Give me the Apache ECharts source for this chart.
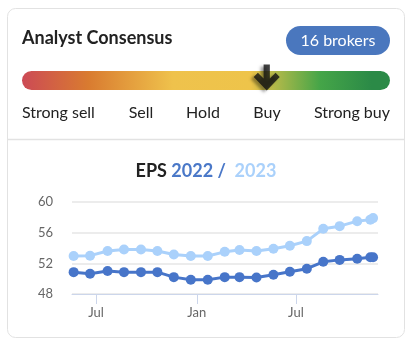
<!DOCTYPE html>
<html>
<head>
<meta charset="utf-8">
<script src="https://cdn.jsdelivr.net/npm/echarts@6/dist/echarts.min.js"></script>
<style>
  html, body { margin: 0; padding: 0; background: #fff; }
  #main { width: 412px; height: 351px; }
</style>
</head>
<body>
<div id="main"></div>
<script>
// consensus
var ratingLabels = ['Strong sell', 'Sell', 'Hold', 'Buy', 'Strong buy'];
var brokerCount = 16;
var consensusScore = 3.66; // 1 = strong sell, 5 = strong buy

// EPS estimates, monthly snapshots
var dates = ['2021-05-21', '2021-06-20', '2021-07-22', '2021-08-21', '2021-09-21', '2021-10-21',
  '2021-11-20', '2021-12-21', '2022-01-21', '2022-02-21', '2022-03-20', '2022-04-20',
  '2022-05-21', '2022-06-20', '2022-07-21', '2022-08-20', '2022-09-19', '2022-10-21',
  '2022-11-14', '2022-11-19'];
var eps2022 = [50.85, 50.65, 51.0, 50.85, 50.85, 50.85, 50.2, 49.85, 49.85, 50.2,
  50.2, 50.15, 50.5, 50.9, 51.3, 52.2, 52.45, 52.6, 52.8, 52.8];
var eps2023 = [52.95, 53.0, 53.6, 53.8, 53.8, 53.6, 53.15, 52.95, 52.95, 53.5,
  53.75, 53.6, 53.9, 54.3, 54.9, 56.5, 56.85, 57.5, 57.7, 57.9];
var xTicks = ['2021-07-01', '2022-01-01', '2022-07-01'];
var monthNames = ['Jan', 'Feb', 'Mar', 'Apr', 'May', 'Jun', 'Jul', 'Aug', 'Sep', 'Oct', 'Nov', 'Dec'];

var FONT = 'Lato';
var myChart = echarts.init(document.getElementById('main'));

function pairs(ys) {
  return ys.map(function(y, i) { return [Date.parse(dates[i]), y]; });
}
var tickValues = xTicks.map(function(d) { return Date.parse(d); });

// rating label positions (left edge / center / right edge)
var labelPos = [
  { x: 22, align: 'left' },
  { x: 141, align: 'center' },
  { x: 203, align: 'center' },
  { x: 267, align: 'center' },
  { x: 390, align: 'right' }
];

var graphics = [
  { type: 'rect', shape: { x: 7.5, y: 8.5, width: 397, height: 329, r: 8 },
    style: { fill: '#fff', stroke: '#e2e2e2', lineWidth: 1 }, z: -10 },
  { type: 'line', shape: { x1: 8, y1: 139.5, x2: 404, y2: 139.5 },
    style: { stroke: '#e2e2e2', lineWidth: 1.5 }, z: -9 },
  { type: 'text', x: 22, y: 38,
    style: { text: 'Analyst Consensus', font: 'bold 18px ' + FONT, fill: '#222',
      verticalAlign: 'middle' } },
  { type: 'rect', shape: { x: 286, y: 26, width: 104, height: 29, r: 14.5 },
    style: { fill: '#4a77be' } },
  { type: 'text', x: 338, y: 40.5,
    style: { text: brokerCount + ' brokers', font: '16px ' + FONT, fill: '#fff',
      align: 'center', verticalAlign: 'middle' } },
  { type: 'rect', shape: { x: 22, y: 71, width: 368, height: 19, r: 9.5 },
    style: { fill: new echarts.graphic.LinearGradient(0, 0, 1, 0, [
      { offset: 0, color: '#cc4a55' },
      { offset: 0.18, color: '#d97b30' },
      { offset: 0.41, color: '#efc24c' },
      { offset: 0.62, color: '#eec44a' },
      { offset: 0.81, color: '#45a548' },
      { offset: 0.95, color: '#2b8a47' },
      { offset: 1, color: '#2b8a47' }
    ]) } }
];
ratingLabels.forEach(function(t, i) {
  graphics.push({ type: 'text', x: labelPos[i].x, y: 113,
    style: { text: t, font: '16px ' + FONT, fill: '#222',
      align: labelPos[i].align, verticalAlign: 'middle' } });
});

var arrowPath = 'path://M10 0 H16 V13 L21.5 7.5 L25.5 11.5 L13 24 L0.5 11.5 L4.5 7.5 L10 13 Z';

var option = {
  animation: false,
  textStyle: { fontFamily: FONT },
  graphic: graphics,
  title: {
    text: '{a|EPS} {b|2022 /}  {c|2023}',
    left: 'center',
    top: 157,
    textStyle: {
      rich: {
        a: { fontFamily: FONT, fontWeight: 'bold', fontSize: 18, color: '#222' },
        b: { fontFamily: FONT, fontWeight: 'bold', fontSize: 18, color: '#4a78c8' },
        c: { fontFamily: FONT, fontWeight: 'bold', fontSize: 18, color: '#aad1fb' }
      }
    }
  },
  grid: [
    { left: 22, width: 368, top: 65, height: 25 },
    { left: 72, right: 34, top: 202, bottom: 57 }
  ],
  xAxis: [
    { gridIndex: 0, type: 'value', min: 1, max: 5, show: false },
    {
      gridIndex: 1, type: 'value',
      min: Date.parse('2021-05-18'), max: Date.parse('2022-11-28'),
      axisLine: { lineStyle: { color: '#ccd6eb', width: 1 } },
      axisTick: { show: true, length: 10, lineStyle: { color: '#ccd6eb' },
        customValues: tickValues },
      axisLabel: {
        customValues: tickValues,
        margin: 12, fontSize: 13, color: '#666', fontFamily: FONT,
        formatter: function(v) { return monthNames[new Date(v).getUTCMonth()]; }
      },
      splitLine: { show: false }
    }
  ],
  yAxis: [
    { gridIndex: 0, type: 'value', min: 0, max: 1, show: false },
    {
      gridIndex: 1, type: 'value', min: 48, max: 60, interval: 4,
      axisLine: { show: false },
      axisTick: { show: false },
      axisLabel: { margin: 19, fontSize: 13, color: '#666', fontFamily: FONT },
      splitLine: { lineStyle: { color: '#e6e6e6', width: 1.5 } }
    }
  ],
  series: [
    {
      name: 'consensus', type: 'scatter', xAxisIndex: 0, yAxisIndex: 0,
      symbol: arrowPath, symbolSize: [26, 26],
      itemStyle: { color: '#111', shadowBlur: 3, shadowOffsetX: -3, shadowOffsetY: 2,
        shadowColor: 'rgba(0,0,0,0.45)' },
      data: [[consensusScore, 0.5]]
    },
    {
      name: '2023', type: 'line', xAxisIndex: 1, yAxisIndex: 1,
      symbol: 'circle', symbolSize: 10, showSymbol: true,
      lineStyle: { color: '#aad1fb', width: 3 },
      itemStyle: { color: '#aad1fb' },
      data: pairs(eps2023)
    },
    {
      name: '2022', type: 'line', xAxisIndex: 1, yAxisIndex: 1,
      symbol: 'circle', symbolSize: 10, showSymbol: true,
      lineStyle: { color: '#4775c9', width: 3 },
      itemStyle: { color: '#4775c9' },
      data: pairs(eps2022)
    }
  ]
};

myChart.setOption(option);
</script>
</body>
</html>
